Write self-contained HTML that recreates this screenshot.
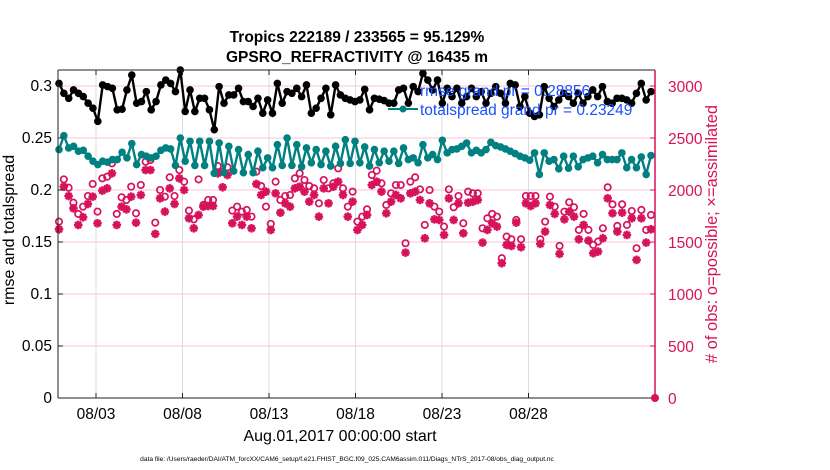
<!DOCTYPE html>
<html><head><meta charset="utf-8"><style>
body{margin:0;background:#fff;}
svg{display:block;font-family:"Liberation Sans",Arial,sans-serif;}
</style></head><body>
<svg id="chart" width="830" height="470" viewBox="0 0 830 470">
<text x="357" y="42" text-anchor="middle" font-size="15.5" font-weight="bold">Tropics 222189 / 233565 = 95.129%</text>
<text x="357" y="62" text-anchor="middle" font-size="15.5" font-weight="bold">GPSRO_REFRACTIVITY @ 16435 m</text>
<g id="grid"></g>
<g id="series"></g>
<g id="axes"></g>
<text transform="translate(14,230) rotate(-90)" text-anchor="middle" font-size="16">rmse and totalspread</text>
<text transform="translate(717,234) rotate(-90)" text-anchor="middle" font-size="16.5" fill="#d6125a"># of obs: o=possible; ×=assimilated</text>
<text x="340" y="441" text-anchor="middle" font-size="16">Aug.01,2017 00:00:00 start</text>
<text x="347" y="461" text-anchor="middle" font-size="6.6">data file: /Users/raeder/DAI/ATM_forcXX/CAM6_setup/f.e21.FHIST_BGC.f09_025.CAM6assim.011/Diags_NTrS_2017-08/obs_diag_output.nc</text>
<g id="legend">
<line x1="388" y1="109" x2="418" y2="109" stroke="#008080" stroke-width="2"/>
<circle cx="403" cy="109" r="3.5" fill="#008080"/>
<text x="420" y="96" font-size="15.5" fill="#1a50ff">rmse grand pr = 0.28856</text>
<text x="420" y="115" font-size="15.5" fill="#1a50ff">totalspread grand pr = 0.23249</text>
</g>
</svg>
<script>
const rmse=[.3025,.293,.2882,.2962,.293,.2898,.2835,.2787,.266,.301,.2994,.2978,.2771,.2777,.2962,.3105,.2835,.285,.2946,.2771,.285,.301,.3057,.3025,.2946,.3153,.2755,.2962,.2755,.2882,.2882,.2771,.258,.2994,.2835,.2914,.2914,.2978,.285,.285,.2803,.2882,.2739,.2866,.2739,.3025,.2835,.2946,.293,.2978,.2898,.301,.2739,.2787,.2882,.2978,.2723,.301,.2914,
.2882,.2866,.285,.2866,.2968,.2771,.2882,.2873,.286,.2835,.2835,.2962,.2978,.2835,.2994,.2946,.3121,.3057,.2962,.3057,.2835,.2978,.2898,.2978,.2835,.2898,.2978,.2898,.2946,.2835,.293,.2994,.293,.2835,.3025,.301,.2803,.2898,.2739,.2707,.2723,.2994,.2882,.2803,.2866,.293,.2898,.2835,.293,.2835,.2898,.2962,.2898,.2994,.285,.2835,.2882,.2882,.2866,.2835,.293,.3025,.2866,.2946];
const spread=[.2389,.2522,.2404,.242,.2373,.2382,.2325,.2277,.2245,.2277,.2268,.2293,.2293,.2363,.2309,.2446,.2245,.2341,.2325,.2309,.2325,.2382,.2404,.2395,.2236,.25,.2277,.2468,.2236,.2468,.2236,.2468,.216,.2452,.2166,.242,.2182,.2389,.2166,.2341,.2166,.2373,.2214,.2309,.2214,.2436,.2236,.25,.2236,.2436,.2223,.2404,.2262,.2389,.2245,.2373,.223,.242,.2255,
.2484,.2255,.2468,.2262,.2414,.223,.2389,.2262,.2373,.2277,.2373,.2255,.2404,.2293,.2309,.2262,.2436,.2309,.2341,.2293,.2478,.2357,.2389,.2395,.242,.2452,.2357,.2382,.2357,.2389,.2459,.2427,.2414,.2395,.2373,.235,.2325,.2309,.2287,.2357,.215,.2357,.2277,.2293,.2204,.2325,.221,.2325,.2223,.2293,.2309,.2325,.2262,.2341,.2293,.2293,.2293,.2357,.2214,.2293,.2214,.2318,.215,.2331];
const possible=[1696,2102,2022,1878,1770,1840,1942,2058,1792,2112,2128,2256,1770,1930,1904,2032,1776,2048,2272,2288,1686,2000,1936,2122,1942,2192,2080,1802,1718,2102,1856,1904,1904,2230,2176,2218,1802,1840,1792,1808,1744,2176,2038,1840,1674,2080,1904,1942,1952,2112,2160,2096,2038,2016,1872,2096,2016,2064,2208,
2016,1840,1984,1696,1744,1814,2144,2186,2064,1856,1968,2048,2048,1488,2080,2122,2006,1664,2000,1840,1792,1648,2006,1834,1942,1680,1984,1968,1968,1632,1728,1770,1744,1344,1552,1526,1712,1526,1942,1942,1942,1526,1696,1936,1840,1462,1792,1882,1834,1616,1770,1616,1472,1504,1632,2026,1862,1654,1862,1664,1798,1440,1808,1616,1760];
const assimilated=[1622,2032,1942,1824,1664,1738,1866,1936,1680,1994,2016,2160,1664,1840,1814,1936,1686,1952,2192,2192,1578,1920,1792,2016,1866,2112,2000,1728,1632,1760,1840,1846,1846,2160,2026,2144,1680,1744,1664,1744,1632,2058,1952,1984,1616,1968,1782,1872,1840,2016,2032,1984,1888,1952,1744,2016,1872,2032,2080,
1952,1744,1888,1616,1664,1760,2048,2080,1984,1776,1888,1952,1920,1398,1968,1984,1904,1536,1872,1718,1712,1568,1920,1712,1872,1584,1878,1888,1904,1494,1616,1680,1648,1296,1472,1462,1686,1450,1872,1846,1872,1482,1600,1856,1770,1386,1718,1792,1744,1526,1664,1514,1392,1408,1536,1920,1776,1600,1782,1568,1728,1328,1728,1494,1622];
const leftTicks=[0,0.05,0.1,0.15,0.2,0.25,0.3];
const leftTickLabels=["0","0.05","0.1","0.15","0.2","0.25","0.3"];
const rightTicks=[0,500,1000,1500,2000,2500,3000];
const dateTicks=[2,7,12,17,22,27];
const dateTickLabels=["08/03","08/08","08/13","08/18","08/23","08/28"];

const NS="http://www.w3.org/2000/svg";
const X0=58,X1=655,Y0=398,YT=70;
const yL=v=>Y0-v*1040;
const yR=n=>Y0-n*0.104;
const xDay=d=>61.4+d*17.3;
const xIdx=(i,n)=>59+i*(592/(n-1));
function mk(tag,attrs,parent){const e=document.createElementNS(NS,tag);for(const k in attrs)e.setAttribute(k,attrs[k]);parent.appendChild(e);return e;}
const grid=document.getElementById('grid'),ser=document.getElementById('series'),ax=document.getElementById('axes');

leftTicks.forEach((v,i)=>{
 if(v>0){const g=mk('line',{x1:X0,x2:X1,y1:yL(v),y2:yL(v),stroke:'#f7c6d8','stroke-width':1},grid);
 
 }
 const t=mk('text',{x:X0-6,y:yL(v)+5,'text-anchor':'end','font-size':15.5},ax);t.textContent=leftTickLabels[i];
 
 
 mk('line',{x1:X0,x2:X0+5,y1:yL(v),y2:yL(v),stroke:'#222'},ax);
});
rightTicks.forEach(n=>{
 const t=mk('text',{x:X1+13,y:yR(n)+6,'font-size':15.5,fill:'#d6125a'},ax);t.textContent=n;
 
 
 mk('line',{x1:X1-5,x2:X1,y1:yR(n),y2:yR(n),stroke:'#d6125a'},ax);
});
dateTicks.forEach((d,i)=>{
 const g=mk('line',{x1:xDay(d),x2:xDay(d),y1:YT,y2:Y0,stroke:'#dddddd','stroke-width':1},grid);
 
 
 mk('line',{x1:xDay(d),x2:xDay(d),y1:Y0,y2:Y0-5,stroke:'#222'},ax);
 mk('line',{x1:xDay(d),x2:xDay(d),y1:YT,y2:YT+5,stroke:'#222'},ax);
 const t=mk('text',{x:xDay(d),y:419,'text-anchor':'middle','font-size':15.5},ax);t.textContent=dateTickLabels[i];
 
 
});
mk('line',{x1:X0,x2:X1,y1:YT,y2:YT,stroke:'#222'},ax);
mk('line',{x1:X0,x2:X1,y1:Y0,y2:Y0,stroke:'#222'},ax);
mk('line',{x1:X0,x2:X0,y1:YT,y2:Y0,stroke:'#222'},ax);
mk('line',{x1:X1,x2:X1,y1:YT,y2:Y0,stroke:'#d6125a','stroke-width':1.5},ax);
const zm=mk('circle',{cx:X1,cy:Y0,r:4,fill:'#d6125a'},ax);



function star(x,y,parent){
 const g=mk('g',{stroke:'#d6125a','stroke-width':2.4},parent);
 for(let a=0;a<4;a++){const r=a*Math.PI/4,dx=4.3*Math.cos(r),dy=4.3*Math.sin(r);mk('line',{x1:x-dx,y1:y-dy,x2:x+dx,y2:y+dy},g);}
 return g;
}
possible.forEach((n,i)=>{
 const c=mk('circle',{cx:xIdx(i,possible.length),cy:yR(n),r:3.2,fill:'none',stroke:'#d6125a','stroke-width':1.7},ser);
 
 
});
assimilated.forEach((n,i)=>{
 const g=star(xIdx(i,assimilated.length),yR(n),ser);
 
 
});
function line(arr,color,name){
 const pts=arr.map((v,i)=>xIdx(i,arr.length).toFixed(1)+','+yL(v).toFixed(1)).join(' ');
 const p=mk('polyline',{points:pts,fill:'none',stroke:color,'stroke-width':2.4},ser);
 
 
 arr.forEach((v,i)=>{const c=mk('circle',{cx:xIdx(i,arr.length),cy:yL(v),r:3.8,fill:color},ser);
 
 });
}
line(spread,'#008080','totalspread');
line(rmse,'#000000','rmse');
</script>
</body></html>
